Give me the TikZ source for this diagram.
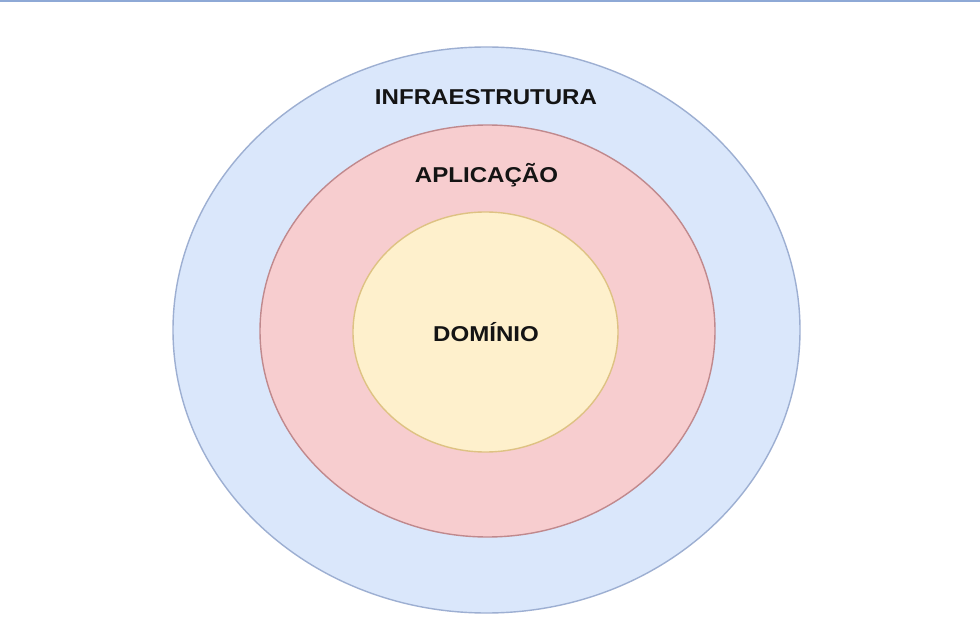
\documentclass[tikz,border=0pt]{standalone}
\usepackage{fontspec}
\setmainfont{Liberation Sans}
\definecolor{infrafill}{HTML}{DAE7FB}
\definecolor{infradraw}{HTML}{9DAFD2}
\definecolor{aplfill}{HTML}{F7CDCF}
\definecolor{apldraw}{HTML}{C0898D}
\definecolor{domfill}{HTML}{FEF0CC}
\definecolor{domdraw}{HTML}{DEC283}
\definecolor{topline}{HTML}{8EA9D6}
\tikzset{
  layer/.style={ellipse, line width=1.4pt, inner sep=0pt},
  lbl/.style={font=\bfseries\fontsize{21.5}{25}\selectfont, text=black!92, xscale=1.12, transform shape, inner sep=0pt},
}
\usetikzlibrary{shapes.geometric}
\begin{document}
\begin{tikzpicture}[x=1pt,y=-1pt]
\useasboundingbox[fill=white] (0,0) rectangle (980,628);
\fill[topline] (0,0) rectangle (980,2);
\node[layer, fill=infrafill, draw=infradraw, minimum width=627pt, minimum height=566pt] (infra) at (486.5,330) {};
\node[layer, fill=aplfill, draw=apldraw, minimum width=455pt, minimum height=412pt] (apl) at (487.5,331) {};
\node[layer, fill=domfill, draw=domdraw, minimum width=265pt, minimum height=240pt] (dom) at (485.5,332) {};
\node[lbl] (tinfra) at (486,97) {INFRAESTRUTURA};
\node[lbl] (tapl) at (486.5,175) {APLICAÇÃO};
\node[lbl] (tdom) at (486,332) {DOMÍNIO};
\end{tikzpicture}
\end{document}
